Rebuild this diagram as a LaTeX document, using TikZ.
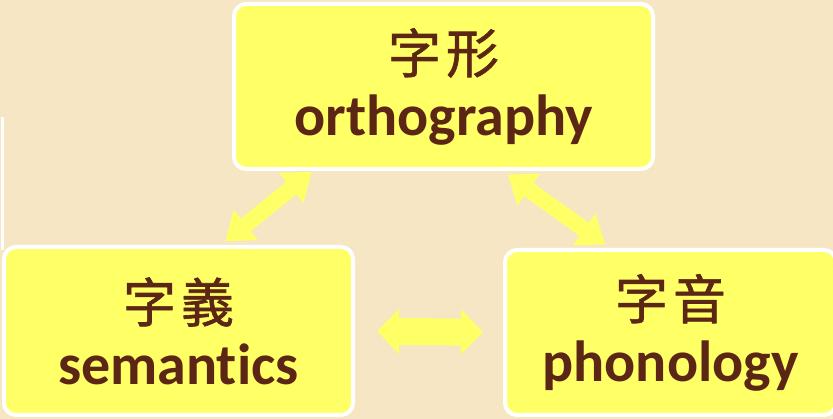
\documentclass[tikz,border=0pt]{standalone}
\usepackage{fontspec}
\setmainfont{Carlito}[Ligatures=CommonOff]
\newfontfamily\cjk{Noto Sans CJK TC}[FakeBold=1.2]
\usetikzlibrary{arrows.meta,positioning,calc}
\definecolor{paper}{RGB}{246,230,195}
\definecolor{boxfill}{RGB}{255,255,102}
\definecolor{ink}{RGB}{92,38,20}
\newcommand\hanzi[2]{{\cjk\mdseries\fontsize{53}{53}\selectfont #1\hspace{5pt}#2}}

\begin{document}
\begin{tikzpicture}[x=1pt,y=-1pt,
  termbox/.style={fill=boxfill,draw=white,line width=4pt,
    rounded corners=12pt,text=ink,align=center,inner sep=0pt,
    font=\bfseries\fontsize{58}{62}\selectfont},
  link/.style={boxfill,line width=16pt,
    {Triangle[width=37pt,length=26pt]}-{Triangle[width=37pt,length=26pt]}},
  widelink/.style={boxfill,line width=27pt,
    {Triangle[width=44pt,length=22pt]}-{Triangle[width=44pt,length=22pt]}}]
  \useasboundingbox (0,0) rectangle (833,419);
  \fill[paper] (0,0) rectangle (833,419);
  \clip (0,0) rectangle (833,419);
  % edge of a box left of the frame
  \draw[white,line width=3pt] (2,117) -- (2,250);

  \node[termbox,minimum width=419pt,minimum height=165pt] (orth)
    at (443.5,86.5) {\hanzi{字}{形}\\orthography};
  \node[termbox,minimum width=349pt,minimum height=168pt] (sem)
    at (178.5,331) {\hanzi{字}{義}\\semantics};
  \node[termbox,minimum width=331pt,minimum height=165pt] (phon)
    at (670.5,332.5) {\hanzi{字}{音}\\phonology};

  \draw[link,shorten <=6pt,shorten >=1pt]
    ($(sem.north west)!0.62!(sem.north east)$) --
    ($(orth.south west)!0.19!(orth.south east)$);
  \draw[link,shorten <=6pt,shorten >=6pt]
    ($(orth.south west)!0.64!(orth.south east)$) --
    ($(phon.north west)!0.32!(phon.north east)$);
  \draw[widelink,shorten <=22pt,shorten >=20pt] (sem.east) -- (phon.west);
\end{tikzpicture}
\end{document}
